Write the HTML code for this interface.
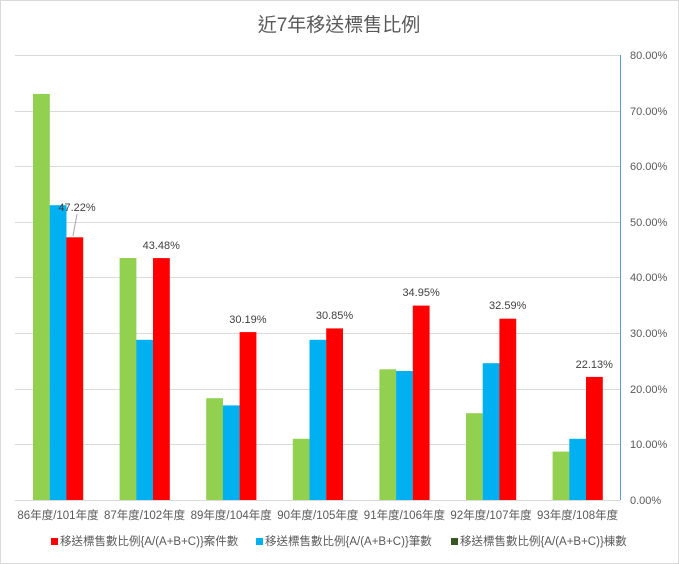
<!DOCTYPE html><html><head><style>body{margin:0;background:#fff}svg{display:block;font-family:"Liberation Sans","Noto Sans CJK TC",sans-serif}</style></head><body>
<svg width="679" height="564" xmlns="http://www.w3.org/2000/svg">
<rect x="0.5" y="0.5" width="678" height="563" fill="#fff" stroke="#d9d9d9"/>
<text x="339" y="31" font-size="19" fill="#595959" text-anchor="middle">近7年移送標售比例</text>
<g stroke="#d9d9d9" stroke-width="1">
<line x1="15" x2="620" y1="55.5" y2="55.5"/><line x1="15" x2="620" y1="111.5" y2="111.5"/><line x1="15" x2="620" y1="166.5" y2="166.5"/><line x1="15" x2="620" y1="222.5" y2="222.5"/><line x1="15" x2="620" y1="277.5" y2="277.5"/><line x1="15" x2="620" y1="333.5" y2="333.5"/><line x1="15" x2="620" y1="389.5" y2="389.5"/><line x1="15" x2="620" y1="444.5" y2="444.5"/><line x1="15" x2="620" y1="500.5" y2="500.5"/>
</g>
<line x1="620.5" x2="620.5" y1="55" y2="500" stroke="#5b9bd5"/>
<g font-size="11" fill="#595959">
<text x="630" y="59">80.00%</text><text x="630" y="115">70.00%</text><text x="630" y="170">60.00%</text><text x="630" y="226">50.00%</text><text x="630" y="281">40.00%</text><text x="630" y="337">30.00%</text><text x="630" y="393">20.00%</text><text x="630" y="448">10.00%</text><text x="630" y="504">0.00%</text>
</g>
<g fill="#92d050">
<rect x="33" y="93.9" width="16.8" height="406.1"/><rect x="119.6" y="258" width="16.8" height="242"/><rect x="206.2" y="398.2" width="16.8" height="101.8"/><rect x="292.8" y="438.8" width="16.8" height="61.2"/><rect x="379.4" y="369.3" width="16.8" height="130.7"/><rect x="466" y="413.2" width="16.8" height="86.8"/><rect x="552.6" y="451.6" width="16.8" height="48.4"/>
</g>
<g fill="#00b0f0">
<rect x="49.7" y="205.2" width="16.8" height="294.8"/><rect x="136.3" y="339.8" width="16.8" height="160.2"/><rect x="222.9" y="405.4" width="16.8" height="94.6"/><rect x="309.5" y="339.8" width="16.8" height="160.2"/><rect x="396.1" y="371" width="16.8" height="129"/><rect x="482.7" y="363.2" width="16.8" height="136.8"/><rect x="569.3" y="438.8" width="16.8" height="61.2"/>
</g>
<g fill="#ff0000">
<rect x="66.4" y="237.3" width="16.8" height="262.7"/><rect x="153" y="258.1" width="16.8" height="241.9"/><rect x="239.6" y="332.1" width="16.8" height="167.9"/><rect x="326.2" y="328.4" width="16.8" height="171.6"/><rect x="412.8" y="305.6" width="16.8" height="194.4"/><rect x="499.4" y="318.7" width="16.8" height="181.3"/><rect x="586" y="376.9" width="16.8" height="123.1"/>
</g>
<line x1="77" y1="214" x2="73" y2="236" stroke="#a6a6a6"/>
<g font-size="11" fill="#404040" text-anchor="middle">
<text x="77" y="211">47.22%</text><text x="161.3" y="249">43.48%</text><text x="247.9" y="323">30.19%</text><text x="334.5" y="319">30.85%</text><text x="421.1" y="296">34.95%</text><text x="507.7" y="309">32.59%</text><text x="594.3" y="368">22.13%</text>
</g>
<g font-size="11.5" fill="#595959" text-anchor="middle">
<text x="58" y="519">86年度/101年度</text><text x="144.6" y="519">87年度/102年度</text><text x="231.2" y="519">89年度/104年度</text><text x="317.8" y="519">90年度/105年度</text><text x="404.4" y="519">91年度/106年度</text><text x="491" y="519">92年度/107年度</text><text x="577.6" y="519">93年度/108年度</text>
</g>
<g font-size="11.5" fill="#595959">
<rect x="51" y="538" width="7" height="7" fill="#ff0000"/><text x="60" y="545">移送標售數比例{A/(A+B+C)}案件數</text>
<rect x="256" y="538" width="7" height="7" fill="#00b0f0"/><text x="265" y="545">移送標售數比例{A/(A+B+C)}筆數</text>
<rect x="451" y="538" width="7" height="7" fill="#375623"/><text x="460" y="545">移送標售數比例{A/(A+B+C)}棟數</text>
</g>
</svg></body></html>
